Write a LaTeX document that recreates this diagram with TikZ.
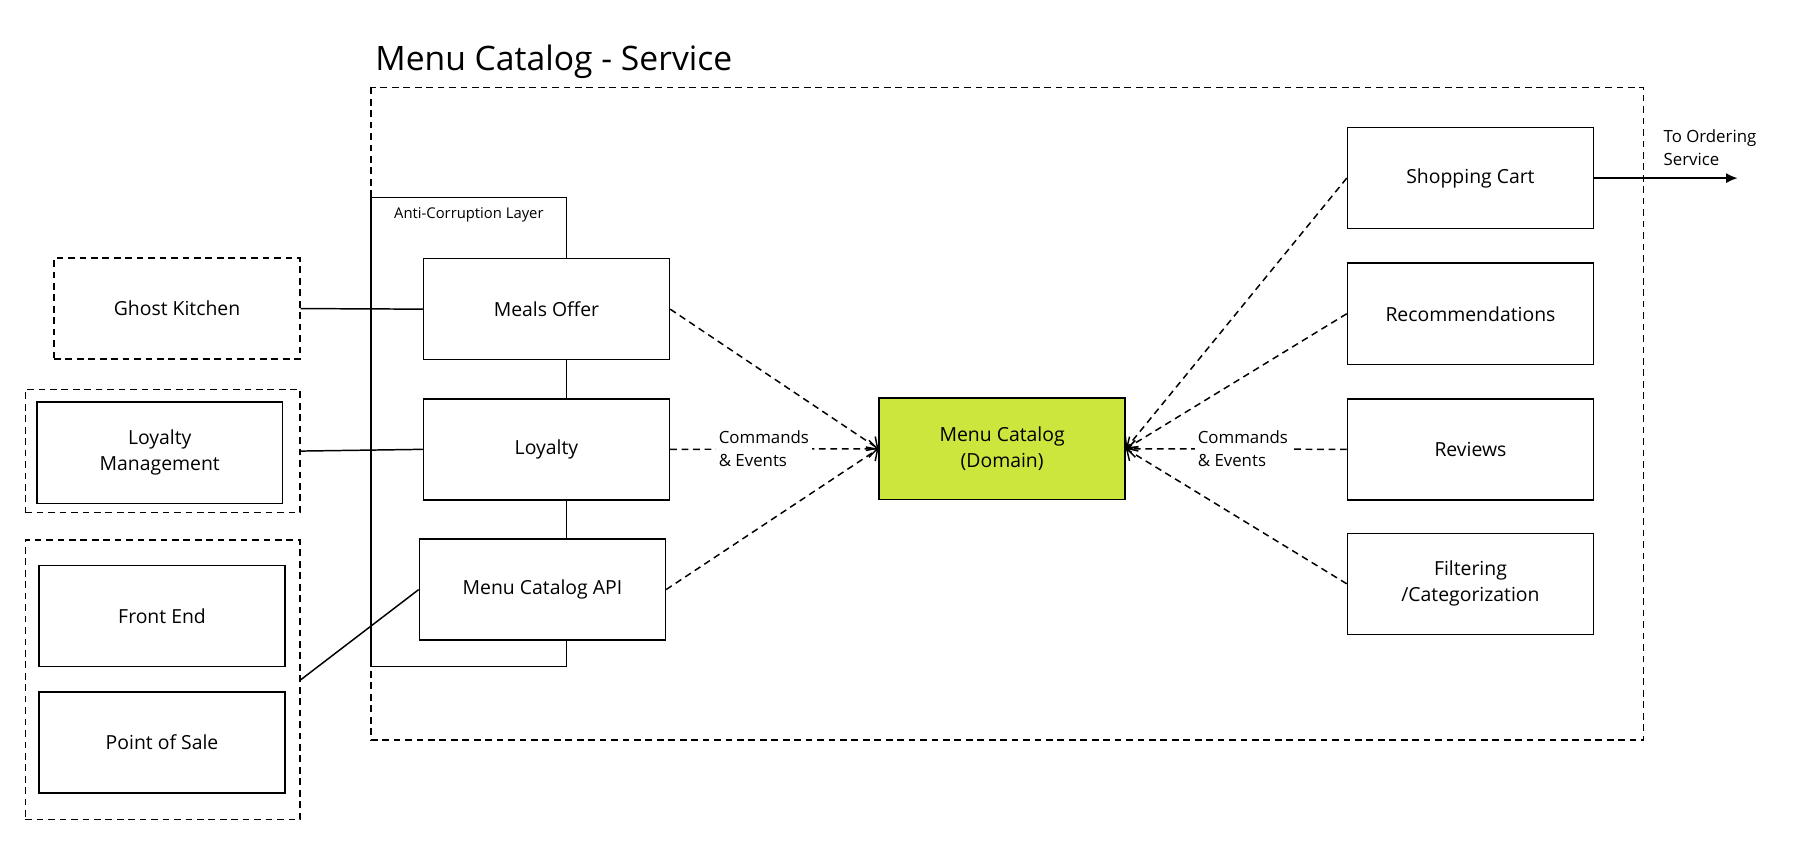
\documentclass[tikz,border=0pt]{standalone}
\usepackage{fontspec}
\setmainfont{Open Sans}
\usetikzlibrary{arrows.meta}
\definecolor{domaingreen}{RGB}{205,230,62}

\begin{document}
\begin{tikzpicture}
[x=0.03cm, y=-0.03cm, line width=1.1pt, font=\fontsize{14.4}{19.5}\selectfont,
unit/.style={rectangle, draw, fill=white, align=center, inner sep=0pt, minimum width=6.42cm, minimum height=2.64cm},
group/.style={rectangle, draw, dash pattern=on 5pt off 3.5pt, inner sep=0pt},
flow/.style={dash pattern=on 5pt off 3.5pt, -{Straight Barb[length=2.2mm, width=4.4mm]}},
evtext/.style={fill=white, align=left, inner sep=2pt, font=\fontsize{12.5}{17}\selectfont}]

\useasboundingbox (0,0) rectangle (1568,731);

\node[anchor=west, inner sep=0pt, font=\fontsize{25}{30}\selectfont] (title) at (326,54) {Menu Catalog - Service};
\draw[dash pattern=on 5pt off 3.5pt] (323,76) rectangle (1430,644);

% anti-corruption layer
\draw (323,172) rectangle (493,580);
\node[font=\fontsize{11}{13}\selectfont] (acl) at (408,187) {Anti-Corruption Layer};

\node[unit, group] (ghost) at (154,268.5) {Ghost Kitchen};
\node[group, minimum width=7.17cm, minimum height=3.21cm] (lmgroup) at (141.5,392.5) {};
\node[unit] (lm) at (139,394) {Loyalty\\Management};
\node[group, minimum width=7.17cm, minimum height=7.29cm] (posgroup) at (141.5,591.5) {};
\node[unit] (frontend) at (141,536) {Front End};
\node[unit] (pos) at (141,646) {Point of Sale};

\node[unit] (meals) at (475.5,269) {Meals Offer};
\node[unit] (loyalty) at (475.5,391) {Loyalty};
\node[unit] (api) at (472,513) {Menu Catalog API};

\node[unit, fill=domaingreen] (domain) at (872,390.5) {Menu Catalog\\(Domain)};

\foreach \y/\n/\t in {155/cart/Shopping Cart, 273/rec/Recommendations, 391/rev/Reviews, 508/filt/{Filtering\\/Categorization}}
  \node[unit] (\n) at (1279.5,\y) {\t};

\draw (ghost.east) -- (meals.west);
\draw (lmgroup.east) -- (loyalty.west);
\draw (posgroup.east) -- (api.west);

\foreach \n in {meals, api}
  \draw[flow] (\n.east) -- (domain.west);
\draw[flow] (loyalty.east) -- node[evtext, pos=0.45] {Commands\\\& Events} (domain.west);

\foreach \n in {cart, rec, filt}
  \draw[flow] (\n.west) -- (domain.east);
\draw[flow] (rev.west) -- node[evtext, pos=0.47] {Commands\\\& Events} (domain.east);

\coordinate (ordering) at (1512,155);
\draw[-{Latex[length=3mm, width=2.6mm]}] (cart.east) -- node[pos=0.46, anchor=south west, align=left, inner sep=2pt, yshift=6.5pt, font=\fontsize{12.5}{17}\selectfont] {To Ordering\\Service} (ordering);
\end{tikzpicture}
\end{document}
